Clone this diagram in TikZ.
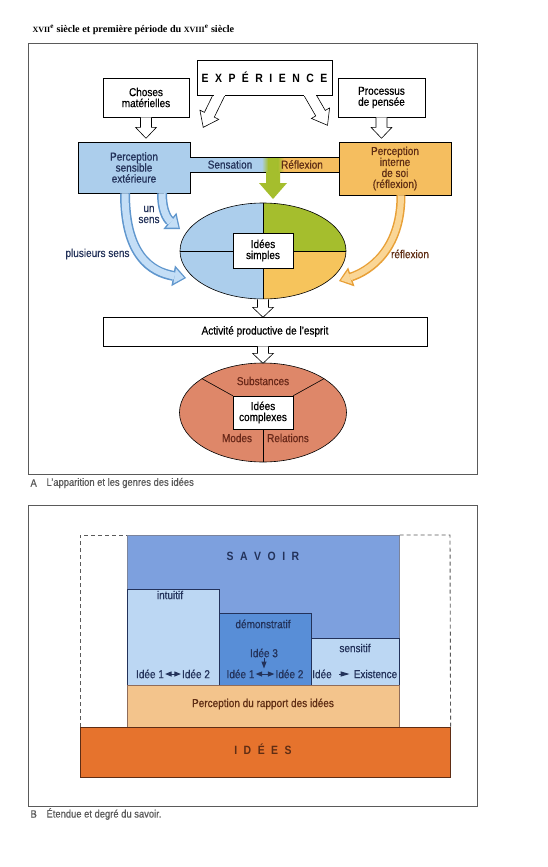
\documentclass[tikz,border=0pt]{standalone}
\usepackage{fontspec}
\setmainfont{Liberation Sans}[FakeStretch=0.87, UprightFeatures={FakeBold=0.6}]
\newfontfamily\headfont{Liberation Serif}
\usepackage{tikz}
\usetikzlibrary{positioning,shapes.geometric,arrows.meta}

\definecolor{bluelight}{RGB}{172,206,236}
\definecolor{bluecore}{RGB}{196,222,246}
\definecolor{blueedge}{RGB}{95,150,205}
\definecolor{greenc}{RGB}{165,190,45}
\definecolor{orangec}{RGB}{245,190,95}
\definecolor{orangeq}{RGB}{246,196,92}
\definecolor{orangeedge}{RGB}{232,160,55}
\definecolor{orangecore}{RGB}{250,214,150}
\definecolor{salmon}{RGB}{222,135,105}
\definecolor{savoirc}{RGB}{125,160,222}
\definecolor{bluepale}{RGB}{188,215,243}
\definecolor{bluedemo}{RGB}{88,142,215}
\definecolor{rapportc}{RGB}{243,196,140}
\definecolor{ideesc}{RGB}{230,115,45}
\definecolor{navy}{RGB}{35,50,90}
\definecolor{brownt}{RGB}{95,45,20}
\definecolor{redbrown}{RGB}{105,40,25}
\definecolor{framec}{RGB}{90,90,90}

\tikzset{
  box/.style={draw, fill=white, align=center, inner sep=0pt, line width=0.6pt},
  spaced/.style={font={\bfseries\fontsize{12}{12}\selectfont\spaceskip 6.5pt\relax}},
  hollow/.style={draw, fill=white, line width=0.6pt},
  fatblue/.style={draw=blueedge, line width=10pt, -{Triangle[length=13pt,width=21pt,line width=0pt]}},
  coreblue/.style={draw=bluecore, line width=7pt, shorten >=2pt, -{Triangle[length=9.5pt,width=15pt,line width=0pt]}},
  fatorange/.style={draw=orangeedge, line width=9pt, -{Triangle[length=13pt,width=20pt,line width=0pt]}},
  coreorange/.style={draw=orangecore, line width=6pt, shorten >=2pt, -{Triangle[length=9.5pt,width=14pt,line width=0pt]}},
  block/.style={anchor=north west, inner sep=0pt, line width=0.6pt},
  idee/.style={inner sep=1pt},
  idarrow/.style={line width=1pt, {Triangle[length=6.5pt,width=5pt]}-{Triangle[length=6.5pt,width=5pt]}},
}

\begin{document}
\begin{tikzpicture}[x=1pt,y=1pt,yscale=-1,xscale=1,font=\fontsize{11.5}{11}\selectfont]
\useasboundingbox (0,0) rectangle (548,867);
\fill[white] (0,0) rectangle (548,867);

% header
\node[anchor=west, font=\headfont\bfseries\fontsize{10.2}{12}\selectfont] (entete) at (29,30) {{\fontsize{8}{9}\selectfont XVII}\textsuperscript{e} siècle et première période du {\fontsize{8}{9}\selectfont XVIII}\textsuperscript{e} siècle};

% frames
\draw[framec, line width=0.7pt] (28,43) rectangle (477,474);
\draw[framec, line width=0.7pt] (28,505) rectangle (477,806);
\node[anchor=west, text=framec, font=\fontsize{10.8}{12}\selectfont] (lettreA) at (27,483) {A};
\node[anchor=west, text=framec, font=\fontsize{10.8}{12}\selectfont] (legendeA) at (43,483) {L'apparition et les genres des idées};
\node[anchor=west, text=framec, font=\fontsize{10.8}{12}\selectfont] (lettreB) at (27,814) {B};
\node[anchor=west, text=framec, font=\fontsize{10.8}{12}\selectfont] (legendeB) at (43,814) {Étendue et degré du savoir.};

%%%%%%%%%% A

% experience arrows
\begin{scope}[shift={(219,95)}, rotate=116]
\draw[hollow] (-4,-5.5) -- (22,-5.5) -- (22,-10.5) -- (36,0) -- (22,10.5) -- (22,5.5) -- (-4,5.5) -- cycle;
\end{scope}
\begin{scope}[shift={(310,95)}, rotate=60]
\draw[hollow] (-4,-5.5) -- (21,-5.5) -- (21,-10.5) -- (35,0) -- (21,10.5) -- (21,5.5) -- (-4,5.5) -- cycle;
\end{scope}
\node[box, minimum width=135, minimum height=35, spaced] (exp) at (264.5,77.5) {E X P É R I E N C E};
\draw[white, line width=1pt] (213.5,95) -- (224.5,95);
\draw[white, line width=1pt] (304.2,95) -- (315.8,95);

\node[box, minimum width=86, minimum height=39] (choses) at (146,97.5) {Choses\\matérielles};
\node[box, minimum width=87, minimum height=39] (processus) at (381.5,97.5) {Processus\\de pensée};
\draw[hollow] (choses.south) ++(-5.5,0) -- ++(0,10) -- ++(-5,0) -- ++(10.5,11) -- ++(10.5,-11) -- ++(-5,0) -- ++(0,-10);
\draw[hollow] (processus.south) ++(-5.5,0) -- ++(0,10) -- ++(-5,0) -- ++(10.5,11) -- ++(10.5,-11) -- ++(-5,0) -- ++(0,-10);

\node[box, fill=bluelight, text=navy, minimum width=112, minimum height=51] (psens) at (134,167.5) {Perception\\sensible\\extérieure};
\node[box, fill=orangec, text=brownt, minimum width=112, minimum height=53] (pinterne) at (395,168.5) {Perception\\interne\\de soi\\(réflexion)};

% sensation / reflexion band
\fill[bluelight] (189.6,157) rectangle (262,172);
\shade[left color=bluelight, right color=greenc] (261.8,157) rectangle (268.2,172);
\fill[greenc] (268,157) rectangle (278,172);
\shade[left color=greenc, right color=orangec] (277.8,157) rectangle (284.2,172);
\fill[orangec] (284,157) rectangle (339.4,172);
\draw[line width=0.6pt] (psens.east |- 0,157) -- (pinterne.west |- 0,157);
\draw[line width=0.6pt] (psens.east |- 0,172) -- (266,172);
\draw[line width=0.6pt] (280,172) -- (pinterne.west |- 0,172);
\node[text=navy] (sensation) at (230,164.5) {Sensation};
\node[text=brownt] (reflexion) at (302,164.5) {Réflexion};
\fill[greenc] (266,171.7) -- (266,183) -- (259,183) -- (273,199) -- (287,183) -- (280,183) -- (280,171.7) -- cycle;

% simple ideas
\fill[bluelight] (263,299) arc[start angle=90, end angle=270, x radius=83, y radius=48] -- cycle;
\fill[greenc] (263,251) -- (263,203) arc[start angle=270, end angle=360, x radius=83, y radius=48] -- cycle;
\fill[orangeq] (263,251) -- (346,251) arc[start angle=0, end angle=90, x radius=83, y radius=48] -- cycle;
\node[ellipse, draw, line width=0.6pt, minimum width=166, minimum height=96, inner sep=0pt] (simple) at (263,251) {};
\draw[line width=0.6pt] (simple.west) -- (simple.east);
\draw[line width=0.6pt] (simple.north) -- (simple.south);
\node[box, minimum width=60, minimum height=35] (isimple) at (263,250.5) {Idées\\simples};

% sense arrows
\coordinate (bout1) at (180,229);
\coordinate (bout2) at (186,278);
\coordinate (bout3) at (339,281);
\draw[fatblue] ([xshift=28]psens.south) .. controls +(0,22) and +(-10,-8) .. (bout1);
\draw[coreblue] ([xshift=28]psens.south) .. controls +(0,22) and +(-10,-8) .. (bout1);
\draw[fatblue] ([xshift=-9]psens.south) .. controls +(0,62) and +(-35,-6) .. (bout2);
\draw[coreblue] ([xshift=-9]psens.south) .. controls +(0,62) and +(-35,-6) .. (bout2);
\draw[fatorange] ([xshift=6]pinterne.south) .. controls +(0,55) and +(30,-10) .. (bout3);
\draw[coreorange] ([xshift=6]pinterne.south) .. controls +(0,55) and +(30,-10) .. (bout3);
\node[align=center, text=navy] (unsens) at (149,214.5) {un\\sens};
\node[text=navy] (plusieurs) at (97.5,254) {plusieurs sens};
\node[text=brownt] (lreflexion) at (410,254) {réflexion};

% productive activity
\draw[hollow] (simple.south) ++(-5.5,0) -- ++(0,8) -- ++(-5,0) -- ++(10.5,10) -- ++(10.5,-10) -- ++(-5,0) -- ++(0,-8);
\node[box, minimum width=324, minimum height=29] (activite) at (265,331.5) {Activité productive de l'esprit};
\node[ellipse, draw, fill=salmon, line width=0.6pt, minimum width=167, minimum height=99, inner sep=0pt] (complexe) at (263,412.5) {};
\draw[hollow] (activite.south -| simple.south) ++(-5.5,0) -- ++(0,7) -- ++(-5,0) -- ++(10.5,10) -- ++(10.5,-10) -- ++(-5,0) -- ++(0,-7);
\node[box, minimum width=60, minimum height=33] (icomplexe) at (263,412.5) {Idées\\complexes};
\draw[line width=0.6pt] (icomplexe.north west) -- (complexe.151);
\draw[line width=0.6pt] (icomplexe.north east) -- (complexe.29);
\draw[line width=0.6pt] (icomplexe.south) -- (complexe.south);
\node[text=redbrown] (substances) at (263,381) {Substances};
\node[text=redbrown] (modes) at (237,438) {Modes};
\node[text=redbrown] (relations) at (288,438) {Relations};

%%%%%%%%%% B

\node[block, fill=savoirc, draw=navy!60, minimum width=272, minimum height=150] (savoir) at (127,535) {};
\node[block, fill=bluepale, draw=navy, minimum width=92, minimum height=96] (intuitif) at (127,589) {};
\node[block, fill=bluedemo, draw=navy, minimum width=92, minimum height=72] (demonstratif) at (219,613) {};
\node[block, fill=bluepale, draw=navy, minimum width=88, minimum height=47] (sensitif) at (311,638) {};
\node[block, fill=rapportc, draw=brownt!70, minimum width=272, minimum height=42] (rapport) at (127,685) {};
\node[block, fill=ideesc, draw=brownt, minimum width=370, minimum height=50] (idees) at (80,727) {};
\draw[framec, line width=0.9pt, dash pattern=on 4pt off 3pt] (idees.north west) -- (80,535) -- (savoir.north west);
\draw[framec, line width=0.9pt, dash pattern=on 4pt off 3pt] (savoir.north east) -- (450,535) -- (idees.north east);

\node[spaced, text=navy] (lsavoir) at (263,556) {S A V O I R};
\node[text=navy] (lintuitif) at (170,595) {intuitif};
\node[text=navy] (ldemonstratif) at (263,624) {démonstratif};
\node[text=navy] (lsensitif) at (355,648) {sensitif};

\node[idee, text=navy] (i1) at (150,674) {Idée 1};
\node[idee, text=navy] (i2) at (196,674) {Idée 2};
\draw[idarrow, navy] (i1) -- (i2);
\node[idee, text=navy] (d1) at (240.5,674) {Idée 1};
\node[idee, text=navy] (d2) at (289.5,674) {Idée 2};
\draw[idarrow, navy] (d1) -- (d2);
\node[idee, text=navy] (d3) at (264,653) {Idée 3};
\draw[navy, line width=1pt, -{Triangle[length=7pt,width=5pt]}] (d3.south) -- (d3.south |- d1.north);
\node[idee, text=navy] (s1) at (322,674) {Idée};
\node[idee, text=navy] (s2) at (375.5,674) {Existence};
\draw[navy, line width=1pt, shorten <=6pt, shorten >=3pt, -{Triangle[length=9pt,width=5pt]}] (s1) -- (s2);

\node[text=brownt] (lrapport) at (263,704) {Perception du rapport des idées};
\node[spaced, text=brownt] (lidees) at (263,749) {I D É E S};

\end{tikzpicture}
\end{document}
